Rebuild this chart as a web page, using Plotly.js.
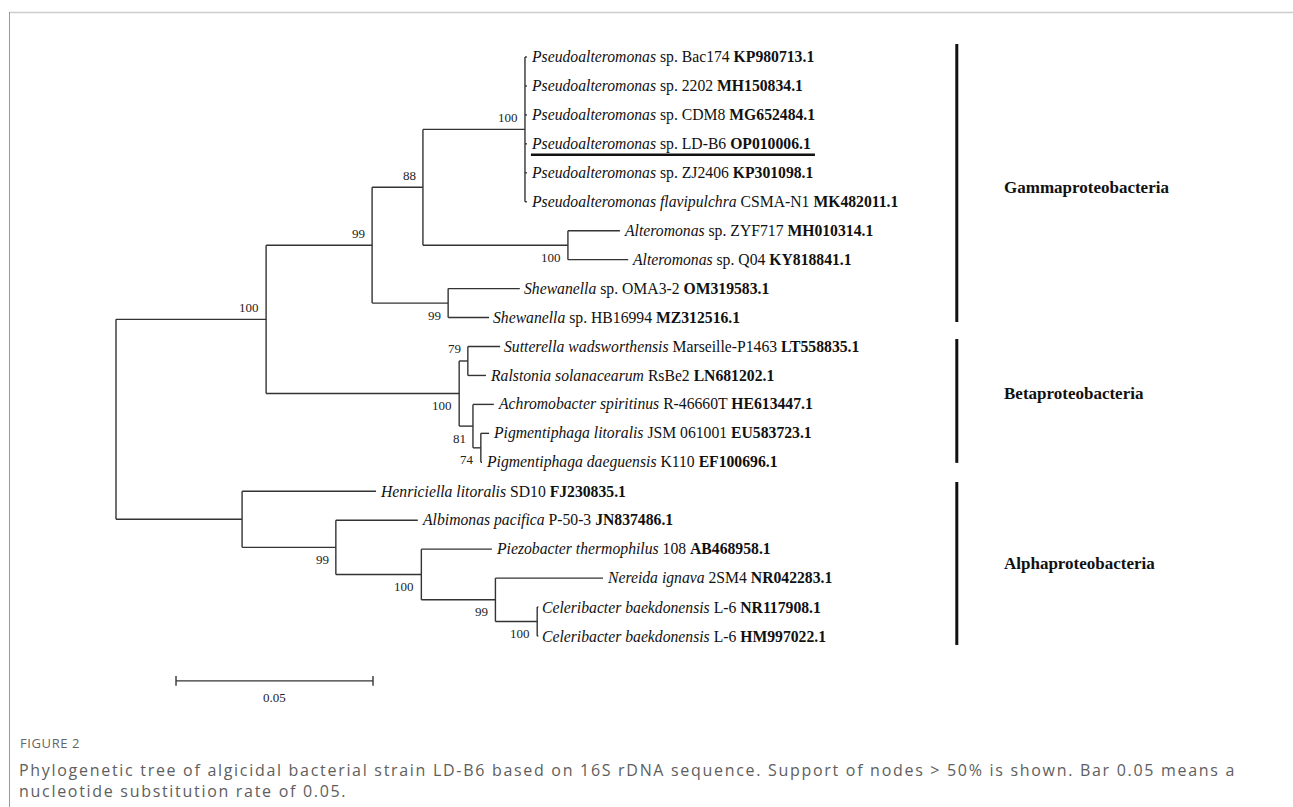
<!DOCTYPE html>
<html><head><meta charset="utf-8">
<script src="https://cdn.plot.ly/plotly-3.0.1.min.js"></script>
<style>html,body{margin:0;padding:0;background:#fff}#chart{width:1293px;height:807px}</style>
</head><body><div id="chart"></div>
<script>
// ---------- DATA ----------
// Leaves, top to bottom
const leafTaxon = ['Pseudoalteromonas','Pseudoalteromonas','Pseudoalteromonas','Pseudoalteromonas','Pseudoalteromonas','Pseudoalteromonas flavipulchra',
  'Alteromonas','Alteromonas','Shewanella','Shewanella',
  'Sutterella wadsworthensis','Ralstonia solanacearum','Achromobacter spiritinus','Pigmentiphaga litoralis','Pigmentiphaga daeguensis',
  'Henriciella litoralis','Albimonas pacifica','Piezobacter thermophilus','Nereida ignava','Celeribacter baekdonensis','Celeribacter baekdonensis'];
const leafStrain = ['sp. Bac174','sp. 2202','sp. CDM8','sp. LD-B6','sp. ZJ2406','CSMA-N1',
  'sp. ZYF717','sp. Q04','sp. OMA3-2','sp. HB16994',
  'Marseille-P1463','RsBe2','R-46660T','JSM 061001','K110',
  'SD10','P-50-3','108','2SM4','L-6','L-6'];
const leafAccession = ['KP980713.1','MH150834.1','MG652484.1','OP010006.1','KP301098.1','MK482011.1',
  'MH010314.1','KY818841.1','OM319583.1','MZ312516.1',
  'LT558835.1','LN681202.1','HE613447.1','EU583723.1','EF100696.1',
  'FJ230835.1','JN837486.1','AB468958.1','NR042283.1','NR117908.1','HM997022.1'];
const leafParent = ['PS','PS','PS','PS','PS','PS','ALT','ALT','SH','SH','B79','B79','B81','B74','B74','A','A99','A100','A99b','CEL','CEL'];
const leafBranch = [0.0005,0.0005,0.0005,0.0005,0.0005,0.0005,0.0132,0.0153,0.0182,0.0104,
  0.0082,0.0046,0.0053,0.0021,0.0003,0.0340,0.0208,0.0179,0.0273,0.0003,0.0003];
const highlightLeaf = 3; // strain of this study

// Internal nodes (parents listed before children)
const nodeIds     = ['R','GB','G','P88','PS','ALT','SH','B','B79','B81','B74','A','A99','A100','A99b','CEL'];
const nodeParent  = [null,'R','GB','G','P88','P88','G','GB','B','B','B81','R','A','A99','A100','A99b'];
const nodeBranch  = [0,0.0381,0.0269,0.0129,0.0259,0.0368,0.0193,0.0490,0.0022,0.0035,0.0020,0.0320,0.0238,0.0217,0.0188,0.0106];
const nodeSupport = [null,100,99,88,100,100,99,100,79,81,74,null,99,100,99,100];

// Clades
const groupNames = ['Gammaproteobacteria','Betaproteobacteria','Alphaproteobacteria'];
const groupFirstLeaf = [0,10,15];
const groupLastLeaf  = [9,14,20];

const scaleBarValue = 0.05;
const figureLabel = 'FIGURE 2';
const captionLines = ['Phylogenetic tree of algicidal bacterial strain LD-B6 based on 16S rDNA sequence. Support of nodes &gt; 50% is shown. Bar 0.05 means a',
  'nucleotide substitution rate of 0.05.'];

// ---------- STYLE / PLACEMENT ----------
const supportAbove = {GB:true,G:true,P88:true,PS:true,B79:true};
const groupBarPad = [[0.45,0.15],[0.26,0.02],[0.32,0.31]];
const groupLabelShift = [0,-0.38,0];
const groupBarX = 0.2134, groupLabelX = 0.2254;
const scaleBarX0 = 0.01523, scaleBarY = 21.55;
const serif = '"Liberation Serif","Times New Roman",serif';
const sans = '"Open Sans",sans-serif';

// ---------- BUILD ----------
const depth = {};
nodeIds.forEach((id,k)=>{ const p=nodeParent[k]; depth[id]=(p===null?0:depth[p])+nodeBranch[k]; });
const leafDepth = leafParent.map((p,i)=>depth[p]+leafBranch[i]);
const children = {}; nodeIds.forEach(id=>children[id]=[]);
nodeIds.forEach((id,k)=>{ if(nodeParent[k]!==null) children[nodeParent[k]].push({node:id}); });
leafParent.forEach((p,i)=>children[p].push({leaf:i}));
const yPos = {};
function nodeY(id){ if(yPos[id]!==undefined) return yPos[id];
  const ys=children[id].map(c=>c.node?nodeY(c.node):c.leaf);
  yPos[id]=(Math.min(...ys)+Math.max(...ys))/2; return yPos[id]; }
const tx=[],ty=[];
nodeIds.forEach(id=>{
  const ys=children[id].map(c=>c.node?nodeY(c.node):c.leaf);
  tx.push(depth[id],depth[id],null); ty.push(Math.min(...ys),Math.max(...ys),null);
  children[id].forEach(c=>{ const cy=c.node?nodeY(c.node):c.leaf; const cx=c.node?depth[c.node]:leafDepth[c.leaf];
    tx.push(depth[id],cx,null); ty.push(cy,cy,null); });
});
const traces=[{type:'scatter',mode:'lines',x:tx,y:ty,line:{color:'#333',width:1.4},hoverinfo:'skip'}];
// clade bars
const gx=[],gy=[];
groupNames.forEach((g,k)=>{ gx.push(groupBarX,groupBarX,null); gy.push(groupFirstLeaf[k]-groupBarPad[k][0],groupLastLeaf[k]+groupBarPad[k][1],null); });
traces.push({type:'scatter',mode:'lines',x:gx,y:gy,line:{color:'#111',width:3},hoverinfo:'skip'});
// scale bar
const sx1=scaleBarX0+scaleBarValue;
traces.push({type:'scatter',mode:'lines',x:[scaleBarX0,sx1,null,scaleBarX0,scaleBarX0,null,sx1,sx1],
  y:[scaleBarY,scaleBarY,null,scaleBarY-0.17,scaleBarY+0.17,null,scaleBarY-0.17,scaleBarY+0.17],
  line:{color:'#333',width:1.4},hoverinfo:'skip'});

const ann=[];
leafTaxon.forEach((t,i)=>{
  ann.push({x:leafDepth[i],y:i,xref:'x',yref:'y',xanchor:'left',yanchor:'middle',xshift:2,showarrow:false,
    text:'<i>'+t+'</i> '+leafStrain[i]+' <b>'+leafAccession[i]+'</b>',font:{family:serif,size:15.7,color:'#111'}});
});
nodeIds.forEach((id,k)=>{ if(nodeSupport[k]===null) return;
  ann.push({x:depth[id],y:nodeY(id),xref:'x',yref:'y',xanchor:'right',yanchor:'middle',xshift:-5,yshift:supportAbove[id]?12:-12,
    showarrow:false,text:String(nodeSupport[k]),font:{family:serif,size:13,color:'#222'}});
});
groupNames.forEach((g,k)=>{
  ann.push({x:groupLabelX,y:(groupFirstLeaf[k]+groupLastLeaf[k])/2+groupLabelShift[k],xref:'x',yref:'y',xanchor:'left',yanchor:'middle',xshift:-2,showarrow:false,
    text:'<b>'+g+'</b>',font:{family:serif,size:17,color:'#111'}});
});
ann.push({x:scaleBarX0+scaleBarValue/2,y:scaleBarY,xref:'x',yref:'y',xanchor:'center',yanchor:'middle',yshift:-17,showarrow:false,
  text:String(scaleBarValue),font:{family:serif,size:13,color:'#222'}});
ann.push({x:18/1293,y:1-743/807,xref:'paper',yref:'paper',xanchor:'left',yanchor:'middle',showarrow:false,
  text:'<span style="letter-spacing:0.6px">'+figureLabel+'</span>',font:{family:sans,size:13,color:'#666'}});
ann.push({x:17/1293,y:1-780.5/807,xref:'paper',yref:'paper',xanchor:'left',yanchor:'middle',align:'left',showarrow:false,
  text:captionLines.map(l=>'<span style="letter-spacing:1.7px">'+l+'</span>').join('<br>'),
  font:{family:sans,size:16,color:'#5e5e5e'}});

const shapes=[
  {type:'line',xref:'paper',yref:'paper',x0:9/1293,x1:1,y0:1-12.5/807,y1:1-12.5/807,line:{color:'#cccccc',width:1.5}},
  {type:'line',xref:'paper',yref:'paper',x0:9.5/1293,x1:9.5/1293,y0:0,y1:1-12/807,line:{color:'#999999',width:1}},
  {type:'line',xref:'x',yref:'y',xsizemode:'pixel',xanchor:leafDepth[highlightLeaf],x0:4,x1:288,
    ysizemode:'pixel',yanchor:highlightLeaf,y0:-11,y1:-11,line:{color:'#111',width:2.5}}
];

const layout={width:1293,height:807,margin:{l:0,r:0,t:0,b:0},paper_bgcolor:'#fff',plot_bgcolor:'#fff',showlegend:false,
  xaxis:{range:[-116/3940,(1293-116)/3940],visible:false,fixedrange:true},
  yaxis:{range:[(807-57)/28.95,-57/28.95],visible:false,fixedrange:true},
  annotations:ann,shapes:shapes};
Plotly.newPlot('chart',traces,layout,{staticPlot:true,displayModeBar:false});
</script></body></html>
